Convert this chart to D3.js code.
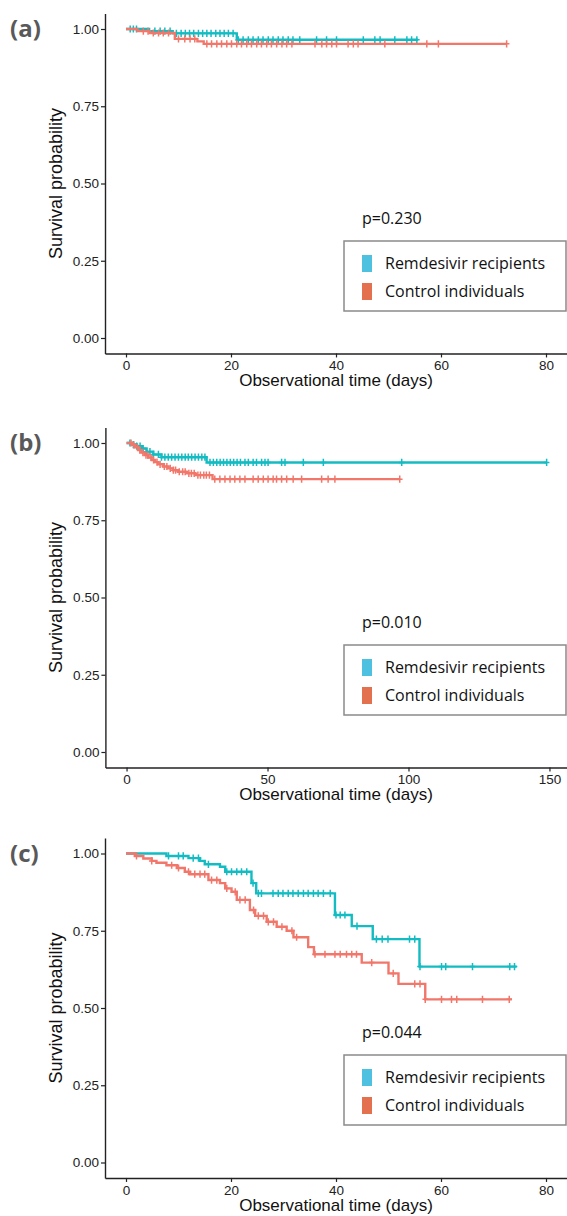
<!DOCTYPE html>
<html>
<head>
<meta charset="utf-8">
<script src="https://cdn.jsdelivr.net/npm/d3@7"></script>
<style>
  body { margin: 0; background: #fff; }
  svg { display: block; }
</style>
</head>
<body>
<div class="canvas"></div>
<script>
const width = 567
const height = 1216

// ---- data ----
const groupNames = ['Remdesivir recipients', 'Control individuals']
const yTicks = [0, 0.25, 0.5, 0.75, 1]

// panel (a)
const xTicksA = [0, 20, 40, 60, 80]
const remTimesA = [0, 4.4, 8.9, 21.1]
const remSurvA = [1, 0.993, 0.986, 0.965]
const remEndA = 55.6
const remCensA = [0.8, 1.4, 2.0, 5.5, 6.5, 7.4, 8.4, 9.6, 10.5, 11.3, 12.1, 12.9, 13.8, 14.6, 15.4, 16.2, 17.1, 17.9, 18.7, 19.5, 20.4,
  21.4, 22.3, 23.3, 24.2, 25.2, 26.1, 27.1, 28.0, 29.0, 29.9, 30.9, 31.8, 33.1, 36.3, 38.2, 40.1, 45.2, 47.4, 48.4, 51.2, 53.5, 54.4, 55.4]
const ctlTimesA = [0, 2.2, 4.5, 9.3, 13.6, 14.8]
const ctlSurvA = [1, 0.993, 0.987, 0.968, 0.96, 0.952]
const ctlEndA = 72.5
const ctlCensA = [3.3, 4.2, 5.2, 6.2, 7.1, 8.1, 10.0, 11.2, 12.2, 13.1, 15.4, 16.3, 17.3, 18.2, 19.2, 20.1, 21.1, 22.0, 23.0, 23.9,
  24.9, 25.8, 26.8, 27.7, 28.7, 29.7, 30.6, 31.6, 36.0, 37.3, 38.2, 39.2, 40.1, 42.3, 43.3, 44.2, 49.3, 57.3, 59.5, 72.5]
const pValueA = 'p=0.230'

// panel (b)
const xTicksB = [0, 50, 100, 150]
const remTimesB = [0, 1.8, 3.6, 5.4, 7.1, 9.5, 12.4, 28.4]
const remSurvB = [1, 0.995, 0.99, 0.982, 0.972, 0.963, 0.954, 0.937]
const remEndB = 149
const remCensB = [1.2, 2.4, 3.6, 4.8, 5.9, 7.1, 8.3, 9.5, 11.3, 12.4, 13.6, 14.8, 16.0, 17.2, 18.4, 19.6, 20.8, 21.9, 23.1, 24.3, 25.5, 26.7, 27.8,
  29.6, 30.8, 32.0, 33.2, 34.4, 35.6, 36.8, 38.0, 39.2, 40.4, 42.0, 43.2, 44.9, 46.1, 47.9, 49.1, 50.2, 55.0, 56.2, 62.7, 69.8, 97.6, 149]
const ctlTimesB = [0, 2, 3, 4.1, 5.3, 6.5, 7.7, 8.9, 10, 11.2, 13, 14.8, 16.5, 18.3, 21.3, 24.3, 30.5]
const ctlSurvB = [1, 0.994, 0.986, 0.977, 0.969, 0.961, 0.953, 0.945, 0.938, 0.931, 0.924, 0.918, 0.912, 0.907, 0.902, 0.896, 0.883]
const ctlEndB = 96.9
const ctlCensB = [1.6, 2.6, 3.9, 4.7, 5.8, 6.9, 7.6, 8.7, 9.6, 10.8, 11.9, 13.4, 14.3, 15.5, 16.6, 17.4, 18.7, 19.9, 20.8, 22.1, 23.0,
  24.0, 25.3, 26.2, 27.4, 28.3, 29.4, 31.3, 33.1, 34.9, 36.7, 38.4, 40.2, 42.0, 44.9, 46.7, 48.5, 50.2, 52.0, 53.2, 55.0, 56.8,
  59.1, 62.1, 69.2, 71.5, 73.9, 96.9]
const pValueB = 'p=0.010'

// panel (c)
const xTicksC = [0, 20, 40, 60, 80]
const remTimesC = [0, 7.7, 11.9, 14.1, 15.0, 17.9, 18.9, 23.9, 24.8, 39.8, 43.0, 47.0, 55.9]
const remSurvC = [1, 0.992, 0.985, 0.976, 0.965, 0.957, 0.941, 0.904, 0.871, 0.801, 0.765, 0.723, 0.634]
const remEndC = 74.4
const remCensC = [8.1, 10.0, 10.9, 12.8, 13.8, 15.7, 19.2, 20.1, 21.1, 22.0, 23.0, 24.2, 25.2, 25.8, 28.0, 29.0, 29.9, 30.9, 31.8,
  32.8, 33.8, 34.7, 35.7, 36.6, 37.6, 38.9, 40.0, 40.8, 41.7, 44.0, 47.7, 48.8, 49.9, 54.0, 55.0, 56.0, 60.1, 60.9, 66.0, 73.1, 74.0]
const ctlTimesC = [0, 1.7, 3.3, 4.9, 5.8, 7.7, 9.7, 11.2, 12.2, 15.7, 17.9, 18.9, 20.1, 21.1, 23.6, 24.6, 26.8, 28.7, 30.6, 31.9,
  34.7, 35.8, 44.9, 50.0, 51.9, 57.0]
const ctlSurvC = [1, 0.992, 0.984, 0.976, 0.97, 0.962, 0.953, 0.941, 0.933, 0.914, 0.904, 0.887, 0.876, 0.85, 0.817, 0.798, 0.779,
  0.763, 0.75, 0.729, 0.697, 0.674, 0.647, 0.612, 0.578, 0.528]
const ctlEndC = 73.5
const ctlCensC = [2.0, 4.9, 8.7, 10.0, 11.9, 13.1, 14.1, 15.0, 16.3, 17.3, 19.2, 20.8, 21.7, 22.7, 24.3, 25.2, 26.2, 27.1, 28.1,
  29.7, 31.6, 32.5, 36.0, 37.9, 39.8, 40.8, 42.0, 43.0, 43.9, 46.8, 50.9, 55.0, 56.0, 57.0, 60.1, 62.0, 63.0, 67.9, 73.0]
const pValueC = 'p=0.044'

// ---- layout ----
const lineColors = ['#13bcc2', '#f2776b']
const swatchColors = ['#4ec1e0', '#e3714f']

const panels = [
  { label: '(a)', y0: 338, xDomain: [-4, 84], xRange: [105, 567], xTicks: xTicksA, p: pValueA, legendTop: 241,
    groups: [
      { times: remTimesA, surv: remSurvA, end: remEndA, cens: remCensA },
      { times: ctlTimesA, surv: ctlSurvA, end: ctlEndA, cens: ctlCensA }] },
  { label: '(b)', y0: 752, xDomain: [-7.5, 157.5], xRange: [105.4, 570.6], xTicks: xTicksB, p: pValueB, legendTop: 645,
    groups: [
      { times: remTimesB, surv: remSurvB, end: remEndB, cens: remCensB },
      { times: ctlTimesB, surv: ctlSurvB, end: ctlEndB, cens: ctlCensB }] },
  { label: '(c)', y0: 1162.5, xDomain: [-4, 84], xRange: [105, 567], xTicks: xTicksC, p: pValueC, legendTop: 1055,
    groups: [
      { times: remTimesC, surv: remSurvC, end: remEndC, cens: remCensC },
      { times: ctlTimesC, surv: ctlSurvC, end: ctlEndC, cens: ctlCensC }] }
]

const unitY = 309 // pixels for survival 0 -> 1

const svg = d3.select('.canvas')
  .append('svg')
  .attr('width', width)
  .attr('height', height)

// step lookup of a drawn curve
const survAt = (g, t) => {
  let s = g.surv[0]
  g.times.forEach((tt, i) => { if (tt <= t) s = g.surv[i] })
  return s
}

panels.forEach(pn => {
  const x = d3.scaleLinear().domain(pn.xDomain).range(pn.xRange)
  const y = d3.scaleLinear().domain([-0.05, 1.05])
    .range([pn.y0 + 0.05 * unitY, pn.y0 - 1.05 * unitY])

  const g = svg.append('g')

  // axes
  const yAxis = d3.axisLeft(y).tickValues(yTicks).tickFormat(d3.format('.2f')).tickSize(4).tickSizeOuter(0)
  const xAxis = d3.axisBottom(x).tickValues(pn.xTicks).tickSize(4).tickSizeOuter(0)

  const yAxisGroup = g.append('g')
    .attr('transform', `translate(${pn.xRange[0]}, 0)`)
    .call(yAxis)
  const xAxisGroup = g.append('g')
    .attr('transform', `translate(0, ${y(-0.05)})`)
    .call(xAxis)

  ;[yAxisGroup, xAxisGroup].forEach(ax => {
    ax.select('.domain').attr('stroke', '#222').attr('stroke-width', 1.4)
    ax.selectAll('.tick line').attr('stroke', '#222').attr('stroke-width', 1.2)
    ax.selectAll('.tick text')
      .attr('fill', '#222')
      .style('font-family', '"Liberation Sans", Arial, sans-serif')
      .style('font-size', '13.5px')
  })
  yAxisGroup.selectAll('.tick text').attr('x', -6)
  xAxisGroup.selectAll('.tick text').attr('y', 7)

  // axis titles
  g.append('text')
    .attr('transform', `translate(62, ${y(0.5)}) rotate(-90)`)
    .attr('text-anchor', 'middle')
    .style('font-family', '"Liberation Sans", Arial, sans-serif')
    .style('font-size', '18px')
    .attr('fill', '#111')
    .text('Survival probability')

  g.append('text')
    .attr('x', (105 + 567) / 2)
    .attr('y', y(-0.05) + 33)
    .attr('text-anchor', 'middle')
    .style('font-family', '"Liberation Sans", Arial, sans-serif')
    .style('font-size', '17px')
    .attr('fill', '#111')
    .text('Observational time (days)')

  // curves
  const line = d3.line()
    .x(d => x(d[0]))
    .y(d => y(d[1]))
    .curve(d3.curveStepAfter)

  const curves = g.append('g')
  pn.groups.forEach((grp, i) => {
    const pts = grp.times.map((t, j) => [t, grp.surv[j]])
    pts.push([grp.end, grp.surv[grp.surv.length - 1]])
    curves.append('path')
      .attr('d', line(pts))
      .attr('fill', 'none')
      .attr('stroke', lineColors[i])
      .attr('stroke-width', 2.4)

    curves.append('g')
      .selectAll('path')
      .data(grp.cens)
      .enter()
      .append('path')
      .attr('d', t => {
        const cx = x(t), cy = y(survAt(grp, t))
        return `M${cx - 2.8},${cy}H${cx + 2.8}M${cx},${cy - 3.6}V${cy + 3.6}`
      })
      .attr('stroke', lineColors[i])
      .attr('stroke-width', 1.5)
  })

  // panel label
  svg.append('text')
    .attr('x', 10)
    .attr('y', y(1) + 8)
    .style('font-family', '"Open Sans", sans-serif')
    .style('font-weight', 'bold')
    .style('font-size', '24px')
    .attr('fill', '#595959')
    .text(pn.label)

  // p value and legend box
  const lt = pn.legendTop
  svg.append('text')
    .attr('x', 362)
    .attr('y', lt - 17)
    .style('font-family', '"Open Sans", sans-serif')
    .style('font-size', '16px')
    .attr('fill', '#111')
    .text(pn.p)

  const legend = svg.append('g').attr('transform', `translate(344, ${lt})`)
  legend.append('rect')
    .attr('x', 0).attr('y', 0)
    .attr('width', 222).attr('height', 70)
    .attr('fill', '#fff')
    .attr('stroke', '#8a8a8a')
    .attr('stroke-width', 1.5)

  groupNames.forEach((name, i) => {
    legend.append('rect')
      .attr('x', 18).attr('y', 14 + i * 28)
      .attr('width', 10).attr('height', 17)
      .attr('fill', swatchColors[i])
    legend.append('text')
      .attr('x', 41).attr('y', 28 + i * 28)
      .style('font-family', '"Open Sans", sans-serif')
      .style('font-size', '16px')
      .attr('fill', '#111')
      .text(name)
  })
})
</script>
</body>
</html>
